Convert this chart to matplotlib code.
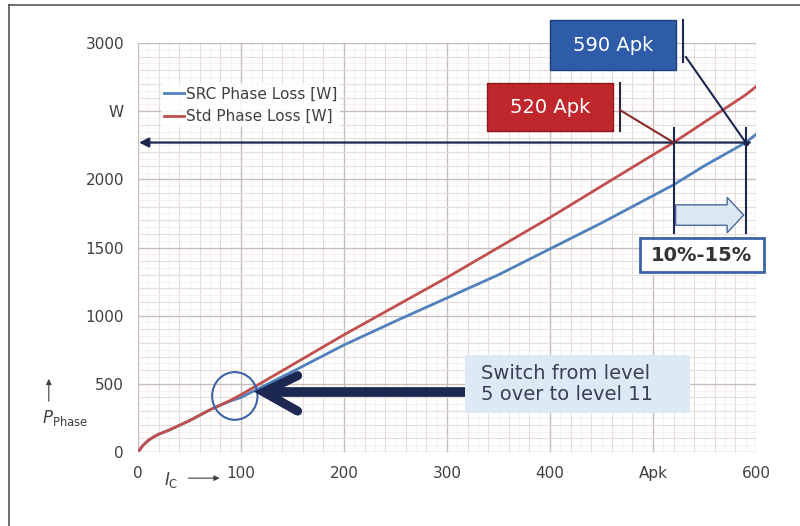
import matplotlib
matplotlib.use('Agg')
import matplotlib.pyplot as plt
from matplotlib.patches import Rectangle, Ellipse, FancyArrow
from matplotlib.ticker import MultipleLocator

# current [Apk] and phase loss [W]
current = [0, 5, 10, 15, 20, 30, 50, 70, 90, 100, 150, 200, 250, 300, 350,
           400, 450, 500, 520, 550, 590, 600]
std_loss = [0, 50, 85, 110, 130, 160, 230, 310, 380, 420, 640, 860, 1070,
            1280, 1500, 1720, 1950, 2180, 2270, 2420, 2620, 2680]
src_loss = [0, 50, 85, 110, 130, 160, 230, 310, 375, 400, 590, 785, 960,
            1130, 1300, 1490, 1680, 1880, 1960, 2100, 2270, 2330]

x_ticks = [0, 100, 200, 300, 400, 500, 600]
x_labels = ['0', '100', '200', '300', '400', 'Apk', '600']
y_ticks = [0, 500, 1000, 1500, 2000, 2500, 3000]
y_labels = ['0', '500', '1000', '1500', '2000', 'W', '3000']

std_pk = 520
src_pk = 590
loss_level = 2270

navy = '#1c2752'
blue = '#4f81bd'
red = '#c0504d'
txt = '#404040'

fig = plt.figure(figsize=(8, 5.26), dpi=100)
ax = fig.add_axes([0.1725, 0.1407, 0.7725, 0.7775])

ax.set_xlim(0, 600)
ax.set_ylim(0, 3000)
ax.set_xticks(x_ticks)
ax.set_xticklabels(x_labels)
ax.set_yticks(y_ticks)
ax.set_yticklabels(y_labels)
ax.xaxis.set_minor_locator(MultipleLocator(20))
ax.yaxis.set_minor_locator(MultipleLocator(100))
ax.grid(which='major', color='#c8bcbc', lw=1.0)
ax.grid(which='minor', color='#e6dcdc', lw=0.8)
for v in range(10, 600, 20):
    ax.axvline(v, color='#f4efef', lw=0.6, zorder=0)
for v in range(50, 3000, 100):
    ax.axhline(v, color='#f4efef', lw=0.6, zorder=0)
ax.set_axisbelow(True)
for s in ax.spines.values():
    s.set_visible(False)
ax.tick_params(which='both', length=0, labelsize=11, labelcolor=txt, pad=10)

ax.plot(current, src_loss, color=blue, lw=2, label='SRC Phase Loss [W]')
ax.plot(current, std_loss, color=red, lw=2, label='Std Phase Loss [W]')

leg = ax.legend(loc='upper left', bbox_to_anchor=(0.025, 0.92), fontsize=11,
                handlelength=1.3, handletextpad=0.1, frameon=True,
                framealpha=0.85, edgecolor='none', borderpad=0.2,
                labelspacing=0.5)
for t in leg.get_texts():
    t.set_color(txt)

# horizontal arrow at equal loss level
ax.annotate('', xy=(1, loss_level), xytext=(src_pk + 4, loss_level),
            arrowprops=dict(arrowstyle='-|>', color=navy, lw=1.6,
                            mutation_scale=14, shrinkA=0, shrinkB=0))

# vertical markers
for xv in (std_pk, src_pk):
    ax.plot([xv, xv], [1610, 2380], color=navy, lw=1.5)

# light blue block arrow between markers
ax.add_patch(FancyArrow(std_pk + 2, 1738, src_pk - std_pk - 4, 0, width=150,
                        head_width=260, head_length=16,
                        length_includes_head=True, fc='#dbe8f4',
                        ec='#4a6a98', lw=1))

# 10%-15% box
ax.add_patch(Rectangle((487, 1320), 121, 250, fc='white', ec='#3d63a6',
                       lw=2, clip_on=False, zorder=5))
ax.text(547.5, 1445, '10%-15%', ha='center', va='center', fontsize=14,
        fontweight='bold', color='#333333', zorder=6)

# 520 Apk box
ax.add_patch(Rectangle((339, 2354), 122, 353, fc='#c0272d', ec='#8a1a1e',
                       lw=1, clip_on=False, zorder=5))
ax.text(400, 2530, '520 Apk', ha='center', va='center', fontsize=14,
        color='white', zorder=6)
ax.plot([468, 468], [2354, 2707], color='#2a2a3a', lw=1.5, zorder=5)
ax.plot([468, std_pk], [2508, loss_level], color='#8a2a2a', lw=1.5, zorder=5)

# 590 Apk box
ax.add_patch(Rectangle((400, 2802), 122, 367, fc='#2e5ca8', ec='#1f3f78',
                       lw=1, clip_on=False, zorder=5))
ax.text(461, 2985, '590 Apk', ha='center', va='center', fontsize=14,
        color='white', zorder=6, clip_on=False)
ax.plot([529, 529], [2860, 3169], color='#1c2752', lw=1.5, zorder=5,
        clip_on=False)
ax.plot([532, src_pk], [2897, loss_level], color=navy, lw=1.5, zorder=5)
ax.plot([src_pk], [loss_level], marker='o', ms=3, color=navy, zorder=6)

# circle at the level switch
ax.add_patch(Ellipse((94, 411), 44, 350, fill=False, ec='#3d63a6', lw=1.5,
                     zorder=6))

# switch text box and big arrow
ax.add_patch(Rectangle((317, 286), 219, 425, fc='#dde9f5', ec='none',
                       zorder=5))
ax.text(333, 499, 'Switch from level\n5 over to level 11', ha='left',
        va='center', fontsize=14, color='#3a3f55', linespacing=1.15,
        zorder=6)
ax.plot([317, 124], [440, 440], color=navy, lw=7, zorder=6,
        solid_capstyle='butt')
ax.plot([155, 122, 155], [560, 440, 300], color=navy, lw=6.5, zorder=6,
        solid_capstyle='round', solid_joinstyle='miter')

# axis labels
fig.text(0.052, 0.205, r'$P_{\mathrm{Phase}}$', fontsize=12, color=txt,
         ha='left', va='center')
fig.add_artist(matplotlib.patches.FancyArrowPatch(
    (0.061, 0.232), (0.061, 0.285), transform=fig.transFigure,
    arrowstyle='-|>', mutation_scale=8, color=txt, lw=0.8))
fig.text(0.205, 0.088, r'$I_{\mathrm{C}}$', fontsize=12, color=txt,
         ha='left', va='center')
fig.add_artist(matplotlib.patches.FancyArrowPatch(
    (0.232, 0.091), (0.278, 0.091), transform=fig.transFigure,
    arrowstyle='-|>', mutation_scale=8, color=txt, lw=0.8))

# outer frame (left and top)
fig.add_artist(matplotlib.lines.Line2D([0.011, 0.011], [0, 0.99],
                                       transform=fig.transFigure,
                                       color='#555555', lw=1.2))
fig.add_artist(matplotlib.lines.Line2D([0.011, 1], [0.99, 0.99],
                                       transform=fig.transFigure,
                                       color='#555555', lw=1.2))

fig.savefig('out.png', dpi=100)
